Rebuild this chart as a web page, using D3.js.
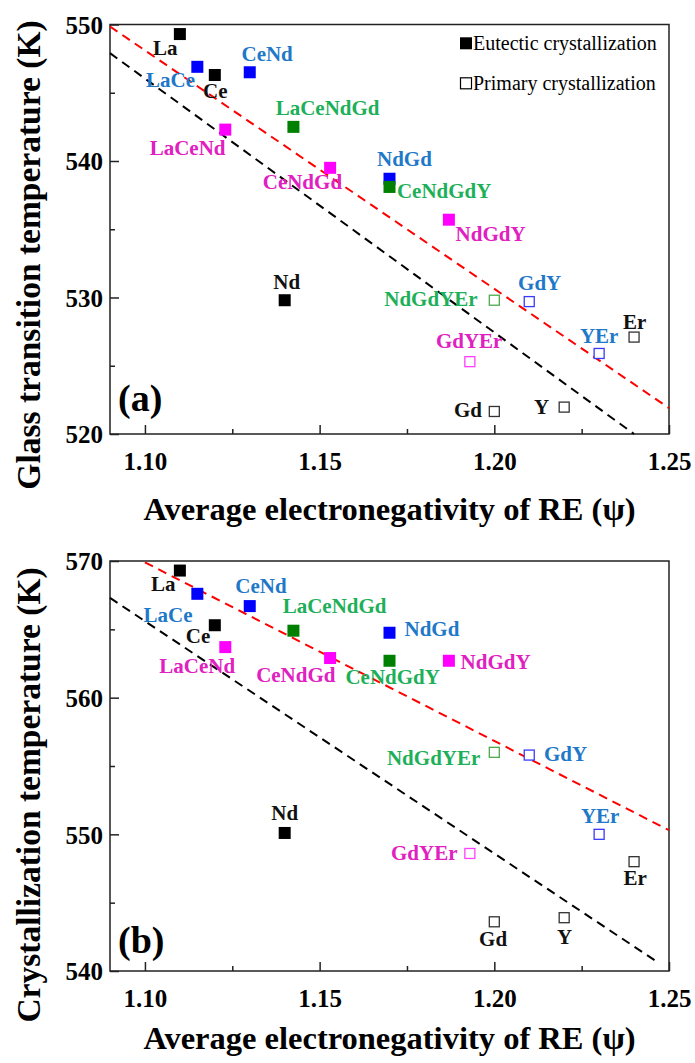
<!DOCTYPE html>
<html><head><meta charset="utf-8">
<script src="https://cdn.jsdelivr.net/npm/d3@7"></script>
<style>
html,body{margin:0;padding:0;background:#fff;}
svg text{font-family:"Liberation Serif","Times New Roman",serif;}
</style></head>
<body><svg id="chart" width="695" height="1063"></svg>
<script>
// ---- data ----
const names = ["La","Ce","Nd","Gd","Y","Er","LaCe","CeNd","NdGd","GdY","YEr","LaCeNd","CeNdGd","NdGdY","GdYEr","LaCeNdGd","CeNdGdY","NdGdYEr"];
const psi   = [1.110,1.120,1.140,1.200,1.220,1.240,1.115,1.130,1.170,1.210,1.230,1.123,1.153,1.187,1.193,1.1425,1.170,1.200];
const tg    = [549.3,546.3,529.8,521.65,521.97,527.1,546.9,546.5,538.7,529.7,525.9,542.3,539.5,535.7,525.3,542.5,538.1,529.8];
const tx    = [569.3,565.3,550.1,543.6,543.9,548.0,567.6,566.7,564.75,555.8,550.0,563.7,562.9,562.7,548.6,564.9,562.7,556.0];
const nElem = [1,1,1,1,1,1,2,2,2,2,2,3,3,3,3,4,4,4];
const primary = [false,false,false,true,true,true,false,false,false,true,true,false,false,false,true,false,false,true];

const xTicks = [1.10,1.15,1.20,1.25];
const tgTicks = [520,530,540,550];
const txTicks = [540,550,560,570];

// fit lines: [x0, x1], [y0, y1]
const tgRedX = [1.09,1.25], tgRedY = [549.85,521.9];
const tgBlkX = [1.09,1.24], tgBlkY = [547.9,520.0];
const txRedX = [1.10,1.25], txRedY = [569.9,550.3];
const txBlkX = [1.09,1.247], txBlkY = [567.3,540.6];

const legendLabels = ["Eutectic crystallization","Primary crystallization"];

// label placement (anchor, dx, dy) per panel -- layout only
const labA = [["middle",-14.6,20.6],["middle",0.5,23.3],["middle",2,-11.7],["end",-12.3,5.7],["end",-15,7.3],["middle",0.7,-8],
  ["middle",-26.8,20.6],["middle",17.4,-11.7],["middle",14.9,-12.3],["middle",10.4,-11.3],["middle",0,-10.4],
  ["middle",-37.7,25],["middle",-27.7,21.6],["start",6.7,21.7],["middle",-0.7,-13.3],
  ["middle",34.2,-11.6],["start",7.4,11.3],["end",-16.7,6]];
const labB = [["middle",-16.7,20.7],["middle",-16.7,18],["middle",0,-12.6],["middle",-1.2,24.4],["middle",0.4,26],["middle",1,23.7],
  ["middle",-29.3,27.7],["middle",11.2,-13.4],["start",15,3],["start",14.7,6],["middle",1,-11.3],
  ["middle",-28,26],["middle",-34.3,24],["start",11.7,8.3],["end",-12.3,6.7],
  ["middle",41.2,-18],["middle",3.2,23],["end",-14,13]];

const markFill = {1:"#000000",2:"#0000ff",3:"#ff00ff",4:"#008000"};
const openStroke = {1:"#333333",2:"#3a3aff",3:"#ff40ff",4:"#4caa4c"};
const labelColor = {1:"#111111",2:"#1f78c8",3:"#e020c0",4:"#1db059"};

const svg = d3.select("#chart");
const X0 = 110, X1 = 669;
const serif = "'Liberation Serif','Times New Roman',serif";

function panel(cfg){
  const x = d3.scaleLinear().domain([1.09,1.25]).range([X0,X1]);
  const y = d3.scaleLinear().domain(cfg.domain).range([cfg.bottom,cfg.top]);
  const g = svg.append("g");

  // frame
  g.append("rect").attr("x",X0).attr("y",cfg.top).attr("width",X1-X0).attr("height",cfg.bottom-cfg.top)
    .attr("fill","none").attr("stroke","#222").attr("stroke-width",1.5);

  // axes (inward ticks)
  const xa = g.append("g").attr("transform",`translate(0,${cfg.bottom})`)
    .call(d3.axisBottom(x).tickValues(xTicks).tickSizeInner(-9).tickSizeOuter(0).tickFormat(d3.format(".2f")));
  xa.attr("font-family",serif);
  xa.select(".domain").remove();
  xa.selectAll("line").attr("stroke","#222").attr("stroke-width",1.5);
  xa.selectAll("text").attr("y",36).attr("dy",0).attr("font-size",25).attr("font-weight","bold").attr("fill","#000")
    .style("font-family",serif);
  const xm = g.append("g").attr("transform",`translate(0,${cfg.bottom})`)
    .call(d3.axisBottom(x).tickValues([1.125,1.175,1.225]).tickSizeInner(-5).tickSizeOuter(0).tickFormat(""));
  xm.select(".domain").remove();
  xm.selectAll("line").attr("stroke","#222").attr("stroke-width",1.5);

  const ya = g.append("g").attr("transform",`translate(${X0},0)`)
    .call(d3.axisLeft(y).tickValues(cfg.ticks).tickSizeInner(-9).tickSizeOuter(0).tickFormat(d3.format("d")));
  ya.attr("font-family",serif);
  ya.select(".domain").remove();
  ya.selectAll("line").attr("stroke","#222").attr("stroke-width",1.5);
  ya.selectAll("text").attr("x",-7).attr("dy","0.35em").attr("font-size",25).attr("font-weight","bold").attr("fill","#000")
    .style("font-family",serif);
  const ym = g.append("g").attr("transform",`translate(${X0},0)`)
    .call(d3.axisLeft(y).tickValues(cfg.minor).tickSizeInner(-5).tickSizeOuter(0).tickFormat(""));
  ym.select(".domain").remove();
  ym.selectAll("line").attr("stroke","#222").attr("stroke-width",1.5);

  // fit lines
  const line = d3.line().x(d=>x(d[0])).y(d=>y(d[1]));
  [[cfg.redX,cfg.redY,"#ff0000"],[cfg.blkX,cfg.blkY,"#000000"]].forEach(([lx,ly,c])=>{
    g.append("path").datum(lx.map((v,i)=>[v,ly[i]])).attr("d",line)
      .attr("fill","none").attr("stroke",c).attr("stroke-width",2).attr("stroke-dasharray","9,6");
  });

  // points
  const idx = d3.range(names.length);
  idx.forEach(i=>{
    const cx = x(psi[i]), cy = y(cfg.vals[i]), k = nElem[i];
    if(primary[i]){
      g.append("rect").attr("x",cx-5).attr("y",cy-5).attr("width",10).attr("height",10)
        .attr("fill","#fff").attr("stroke",openStroke[k]).attr("stroke-width",1.3);
    } else {
      g.append("rect").attr("x",cx-6).attr("y",cy-6).attr("width",12).attr("height",12).attr("fill",markFill[k]);
    }
    const L = cfg.labels[i];
    g.append("text").attr("x",cx+L[1]).attr("y",cy+L[2]).attr("text-anchor",L[0])
      .attr("font-size",21).attr("font-weight","bold").attr("fill",labelColor[k]).text(names[i]);
  });

  // panel letter
  g.append("text").attr("x",118).attr("y",cfg.letterY).attr("font-size",38).attr("font-weight","bold").text(cfg.letter);

  // titles
  g.append("text").attr("x",(X0+X1)/2).attr("y",cfg.xtitleY).attr("text-anchor","middle")
    .attr("font-size",32.5).attr("font-weight","bold").text("Average electronegativity of RE (\u03C8)");
  g.append("text").attr("transform",`translate(40,${cfg.ytitleC}) rotate(-90)`).attr("text-anchor","middle")
    .attr("font-size",33.5).attr("font-weight","bold").text(cfg.ytitle);
  return g;
}

const ga = panel({top:24.5,bottom:434,domain:[520,550],ticks:tgTicks,minor:[525,535,545],vals:tg,labels:labA,
  redX:tgRedX,redY:tgRedY,blkX:tgBlkX,blkY:tgBlkY,letter:"(a)",letterY:411,xtitleY:520,ytitleC:255,ytitle:"Glass transition temperature (K)"});
panel({top:561,bottom:971,domain:[540,570],ticks:txTicks,minor:[545,555,565],vals:tx,labels:labB,
  redX:txRedX,redY:txRedY,blkX:txBlkX,blkY:txBlkY,letter:"(b)",letterY:953,xtitleY:1049,ytitleC:795,ytitle:"Crystallization temperature (K)"});

// legend in panel (a)
const leg = ga.append("g");
legendLabels.forEach((t,i)=>{
  const cy = [43.3,83.3][i];
  if(i===0) leg.append("rect").attr("x",460).attr("y",cy-6).attr("width",12).attr("height",12).attr("fill","#000");
  else leg.append("rect").attr("x",460.5).attr("y",cy-5.5).attr("width",11).attr("height",11).attr("fill","#fff").attr("stroke","#000").attr("stroke-width",1.2);
  leg.append("text").attr("x",473).attr("y",cy+7).attr("font-size",20).attr("fill","#000").text(t);
});
</script></body></html>
